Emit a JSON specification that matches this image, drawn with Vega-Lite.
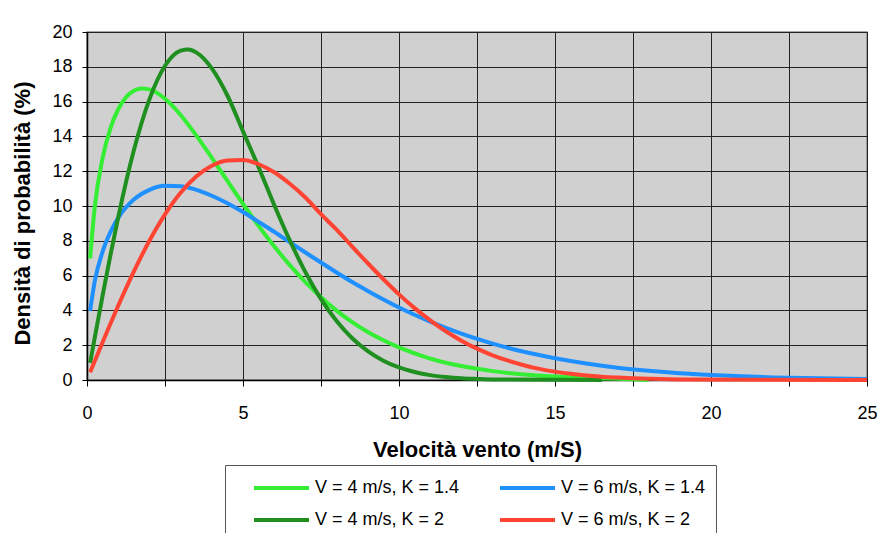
{
  "$schema": "https://vega.github.io/schema/vega-lite/v6.json",
  "width": 780,
  "height": 348,
  "autosize": {"type": "none"},
  "padding": {"left": 87, "top": 32, "right": 15, "bottom": 153},
  "background": "white",
  "config": {
    "view": {"fill": "#D0D0D0", "stroke": "#8A8A8A", "strokeWidth": 1.5},
    "axis": {
      "labelFont": "Liberation Sans", "labelFontSize": 18, "labelColor": "#000",
      "titleFont": "Liberation Sans", "titleFontSize": 22, "titleFontWeight": "bold", "titleColor": "#000",
      "gridColor": "#222", "gridWidth": 1, "gridOpacity": 1,
      "domainColor": "#000", "domainWidth": 1.5, "tickColor": "#000", "tickWidth": 1
    },
    "axisX": {
      "tickSize": 6, "labelPadding": 18, "titlePadding": 17,
      "labelFlush": false, "labelOverlap": false
    },
    "axisY": {
      "tickSize": 5, "labelPadding": 10, "titlePadding": 17,
      "labelFlush": false, "labelOverlap": false, "titleY": 181
    },
    "legend": {"labelFont": "Liberation Sans"}
  },
  "datasets": {
    "curves": [
      {"serie": "V = 4 m/s, K = 1.4", "v": 0.1, "p": 6.99},
      {"serie": "V = 4 m/s, K = 1.4", "v": 0.25, "p": 9.96},
      {"serie": "V = 4 m/s, K = 1.4", "v": 0.5, "p": 12.75},
      {"serie": "V = 4 m/s, K = 1.4", "v": 0.75, "p": 14.46},
      {"serie": "V = 4 m/s, K = 1.4", "v": 1, "p": 15.56},
      {"serie": "V = 4 m/s, K = 1.4", "v": 1.25, "p": 16.25},
      {"serie": "V = 4 m/s, K = 1.4", "v": 1.5, "p": 16.62},
      {"serie": "V = 4 m/s, K = 1.4", "v": 1.75, "p": 16.75},
      {"serie": "V = 4 m/s, K = 1.4", "v": 2, "p": 16.7},
      {"serie": "V = 4 m/s, K = 1.4", "v": 2.5, "p": 16.16},
      {"serie": "V = 4 m/s, K = 1.4", "v": 3, "p": 15.23},
      {"serie": "V = 4 m/s, K = 1.4", "v": 3.5, "p": 14.06},
      {"serie": "V = 4 m/s, K = 1.4", "v": 4, "p": 12.77},
      {"serie": "V = 4 m/s, K = 1.4", "v": 4.5, "p": 11.44},
      {"serie": "V = 4 m/s, K = 1.4", "v": 5, "p": 10.12},
      {"serie": "V = 4 m/s, K = 1.4", "v": 5.5, "p": 8.86},
      {"serie": "V = 4 m/s, K = 1.4", "v": 6, "p": 7.68},
      {"serie": "V = 4 m/s, K = 1.4", "v": 6.5, "p": 6.6},
      {"serie": "V = 4 m/s, K = 1.4", "v": 7, "p": 5.62},
      {"serie": "V = 4 m/s, K = 1.4", "v": 7.5, "p": 4.76},
      {"serie": "V = 4 m/s, K = 1.4", "v": 8, "p": 3.99},
      {"serie": "V = 4 m/s, K = 1.4", "v": 8.5, "p": 3.33},
      {"serie": "V = 4 m/s, K = 1.4", "v": 9, "p": 2.76},
      {"serie": "V = 4 m/s, K = 1.4", "v": 9.5, "p": 2.28},
      {"serie": "V = 4 m/s, K = 1.4", "v": 10, "p": 1.87},
      {"serie": "V = 4 m/s, K = 1.4", "v": 11, "p": 1.23},
      {"serie": "V = 4 m/s, K = 1.4", "v": 12, "p": 0.8},
      {"serie": "V = 4 m/s, K = 1.4", "v": 13, "p": 0.51},
      {"serie": "V = 4 m/s, K = 1.4", "v": 14, "p": 0.32},
      {"serie": "V = 4 m/s, K = 1.4", "v": 15, "p": 0.2},
      {"serie": "V = 4 m/s, K = 1.4", "v": 16, "p": 0.12},
      {"serie": "V = 4 m/s, K = 1.4", "v": 17, "p": 0.07},
      {"serie": "V = 4 m/s, K = 1.4", "v": 18, "p": 0},
      {"serie": "V = 6 m/s, K = 1.4", "v": 0.1, "p": 3.97},
      {"serie": "V = 6 m/s, K = 1.4", "v": 0.25, "p": 5.69},
      {"serie": "V = 6 m/s, K = 1.4", "v": 0.5, "p": 7.38},
      {"serie": "V = 6 m/s, K = 1.4", "v": 0.75, "p": 8.5},
      {"serie": "V = 6 m/s, K = 1.4", "v": 1, "p": 9.32},
      {"serie": "V = 6 m/s, K = 1.4", "v": 1.5, "p": 10.37},
      {"serie": "V = 6 m/s, K = 1.4", "v": 2, "p": 10.93},
      {"serie": "V = 6 m/s, K = 1.4", "v": 2.5, "p": 11.16},
      {"serie": "V = 6 m/s, K = 1.4", "v": 3, "p": 11.14},
      {"serie": "V = 6 m/s, K = 1.4", "v": 3.5, "p": 10.93},
      {"serie": "V = 6 m/s, K = 1.4", "v": 4, "p": 10.59},
      {"serie": "V = 6 m/s, K = 1.4", "v": 4.5, "p": 10.16},
      {"serie": "V = 6 m/s, K = 1.4", "v": 5, "p": 9.65},
      {"serie": "V = 6 m/s, K = 1.4", "v": 5.5, "p": 9.09},
      {"serie": "V = 6 m/s, K = 1.4", "v": 6, "p": 8.52},
      {"serie": "V = 6 m/s, K = 1.4", "v": 6.5, "p": 7.92},
      {"serie": "V = 6 m/s, K = 1.4", "v": 7, "p": 7.33},
      {"serie": "V = 6 m/s, K = 1.4", "v": 7.5, "p": 6.75},
      {"serie": "V = 6 m/s, K = 1.4", "v": 8, "p": 6.18},
      {"serie": "V = 6 m/s, K = 1.4", "v": 8.5, "p": 5.63},
      {"serie": "V = 6 m/s, K = 1.4", "v": 9, "p": 5.12},
      {"serie": "V = 6 m/s, K = 1.4", "v": 9.5, "p": 4.63},
      {"serie": "V = 6 m/s, K = 1.4", "v": 10, "p": 4.17},
      {"serie": "V = 6 m/s, K = 1.4", "v": 11, "p": 3.36},
      {"serie": "V = 6 m/s, K = 1.4", "v": 12, "p": 2.66},
      {"serie": "V = 6 m/s, K = 1.4", "v": 13, "p": 2.09},
      {"serie": "V = 6 m/s, K = 1.4", "v": 14, "p": 1.62},
      {"serie": "V = 6 m/s, K = 1.4", "v": 15, "p": 1.25},
      {"serie": "V = 6 m/s, K = 1.4", "v": 16, "p": 0.95},
      {"serie": "V = 6 m/s, K = 1.4", "v": 17, "p": 0.71},
      {"serie": "V = 6 m/s, K = 1.4", "v": 18, "p": 0.53},
      {"serie": "V = 6 m/s, K = 1.4", "v": 19, "p": 0.39},
      {"serie": "V = 6 m/s, K = 1.4", "v": 20, "p": 0.29},
      {"serie": "V = 6 m/s, K = 1.4", "v": 21, "p": 0.21},
      {"serie": "V = 6 m/s, K = 1.4", "v": 22, "p": 0.15},
      {"serie": "V = 6 m/s, K = 1.4", "v": 23, "p": 0.11},
      {"serie": "V = 6 m/s, K = 1.4", "v": 24, "p": 0.08},
      {"serie": "V = 6 m/s, K = 1.4", "v": 25, "p": 0.06},
      {"serie": "V = 4 m/s, K = 2", "v": 0.1, "p": 0.98},
      {"serie": "V = 4 m/s, K = 2", "v": 0.25, "p": 2.45},
      {"serie": "V = 4 m/s, K = 2", "v": 0.5, "p": 4.85},
      {"serie": "V = 4 m/s, K = 2", "v": 0.75, "p": 7.16},
      {"serie": "V = 4 m/s, K = 2", "v": 1, "p": 9.35},
      {"serie": "V = 4 m/s, K = 2", "v": 1.5, "p": 13.19},
      {"serie": "V = 4 m/s, K = 2", "v": 2, "p": 16.13},
      {"serie": "V = 4 m/s, K = 2", "v": 2.5, "p": 18.06},
      {"serie": "V = 4 m/s, K = 2", "v": 2.75, "p": 18.63},
      {"serie": "V = 4 m/s, K = 2", "v": 3, "p": 18.93},
      {"serie": "V = 4 m/s, K = 2", "v": 3.25, "p": 19.0},
      {"serie": "V = 4 m/s, K = 2", "v": 3.5, "p": 18.83},
      {"serie": "V = 4 m/s, K = 2", "v": 3.75, "p": 18.46},
      {"serie": "V = 4 m/s, K = 2", "v": 4, "p": 17.91},
      {"serie": "V = 4 m/s, K = 2", "v": 4.5, "p": 16.35},
      {"serie": "V = 4 m/s, K = 2", "v": 5, "p": 14.29},
      {"serie": "V = 4 m/s, K = 2", "v": 5.5, "p": 12.23},
      {"serie": "V = 4 m/s, K = 2", "v": 6, "p": 10.06},
      {"serie": "V = 4 m/s, K = 2", "v": 6.5, "p": 8.02},
      {"serie": "V = 4 m/s, K = 2", "v": 7, "p": 6.2},
      {"serie": "V = 4 m/s, K = 2", "v": 7.5, "p": 4.65},
      {"serie": "V = 4 m/s, K = 2", "v": 8, "p": 3.39},
      {"serie": "V = 4 m/s, K = 2", "v": 8.5, "p": 2.4},
      {"serie": "V = 4 m/s, K = 2", "v": 9, "p": 1.66},
      {"serie": "V = 4 m/s, K = 2", "v": 9.5, "p": 1.11},
      {"serie": "V = 4 m/s, K = 2", "v": 10, "p": 0.72},
      {"serie": "V = 4 m/s, K = 2", "v": 10.5, "p": 0.46},
      {"serie": "V = 4 m/s, K = 2", "v": 11, "p": 0.28},
      {"serie": "V = 4 m/s, K = 2", "v": 11.5, "p": 0.17},
      {"serie": "V = 4 m/s, K = 2", "v": 12, "p": 0.1},
      {"serie": "V = 4 m/s, K = 2", "v": 12.5, "p": 0.06},
      {"serie": "V = 4 m/s, K = 2", "v": 13, "p": 0.03},
      {"serie": "V = 4 m/s, K = 2", "v": 16.5, "p": 0},
      {"serie": "V = 6 m/s, K = 2", "v": 0.1, "p": 0.44},
      {"serie": "V = 6 m/s, K = 2", "v": 0.25, "p": 1.09},
      {"serie": "V = 6 m/s, K = 2", "v": 0.5, "p": 2.17},
      {"serie": "V = 6 m/s, K = 2", "v": 0.75, "p": 3.23},
      {"serie": "V = 6 m/s, K = 2", "v": 1, "p": 4.27},
      {"serie": "V = 6 m/s, K = 2", "v": 1.5, "p": 6.23},
      {"serie": "V = 6 m/s, K = 2", "v": 2, "p": 8.0},
      {"serie": "V = 6 m/s, K = 2", "v": 2.5, "p": 9.52},
      {"serie": "V = 6 m/s, K = 2", "v": 3, "p": 10.76},
      {"serie": "V = 6 m/s, K = 2", "v": 3.5, "p": 11.69},
      {"serie": "V = 6 m/s, K = 2", "v": 4, "p": 12.31},
      {"serie": "V = 6 m/s, K = 2", "v": 4.5, "p": 12.62},
      {"serie": "V = 6 m/s, K = 2", "v": 5, "p": 12.65},
      {"serie": "V = 6 m/s, K = 2", "v": 5.5, "p": 12.4},
      {"serie": "V = 6 m/s, K = 2", "v": 6, "p": 11.94},
      {"serie": "V = 6 m/s, K = 2", "v": 6.5, "p": 11.28},
      {"serie": "V = 6 m/s, K = 2", "v": 7, "p": 10.49},
      {"serie": "V = 6 m/s, K = 2", "v": 7.5, "p": 9.53},
      {"serie": "V = 6 m/s, K = 2", "v": 8, "p": 8.64},
      {"serie": "V = 6 m/s, K = 2", "v": 8.5, "p": 7.67},
      {"serie": "V = 6 m/s, K = 2", "v": 9, "p": 6.71},
      {"serie": "V = 6 m/s, K = 2", "v": 9.5, "p": 5.79},
      {"serie": "V = 6 m/s, K = 2", "v": 10, "p": 4.92},
      {"serie": "V = 6 m/s, K = 2", "v": 10.5, "p": 4.13},
      {"serie": "V = 6 m/s, K = 2", "v": 11, "p": 3.43},
      {"serie": "V = 6 m/s, K = 2", "v": 11.5, "p": 2.8},
      {"serie": "V = 6 m/s, K = 2", "v": 12, "p": 2.26},
      {"serie": "V = 6 m/s, K = 2", "v": 12.5, "p": 1.8},
      {"serie": "V = 6 m/s, K = 2", "v": 13, "p": 1.42},
      {"serie": "V = 6 m/s, K = 2", "v": 13.5, "p": 1.11},
      {"serie": "V = 6 m/s, K = 2", "v": 14, "p": 0.85},
      {"serie": "V = 6 m/s, K = 2", "v": 14.5, "p": 0.64},
      {"serie": "V = 6 m/s, K = 2", "v": 15, "p": 0.48},
      {"serie": "V = 6 m/s, K = 2", "v": 15.5, "p": 0.36},
      {"serie": "V = 6 m/s, K = 2", "v": 16, "p": 0.26},
      {"serie": "V = 6 m/s, K = 2", "v": 16.5, "p": 0.19},
      {"serie": "V = 6 m/s, K = 2", "v": 17, "p": 0.14},
      {"serie": "V = 6 m/s, K = 2", "v": 17.5, "p": 0.1},
      {"serie": "V = 6 m/s, K = 2", "v": 18, "p": 0.07},
      {"serie": "V = 6 m/s, K = 2", "v": 19, "p": 0.03},
      {"serie": "V = 6 m/s, K = 2", "v": 25, "p": 0}
    ]
  },
  "layer": [
    {
      "data": {"name": "curves"},
      "mark": {"type": "line", "strokeWidth": 4, "interpolate": "monotone", "strokeJoin": "round", "strokeCap": "butt"},
      "encoding": {
        "x": {
          "field": "v", "type": "quantitative",
          "title": "Velocità vento (m/S)",
          "scale": {"domain": [0, 25], "nice": false, "zero": false},
          "axis": {
            "values": [0, 2.5, 5, 7.5, 10, 12.5, 15, 17.5, 20, 22.5, 25],
            "labelExpr": "datum.value % 5 === 0 ? datum.label : ''"
          }
        },
        "y": {
          "field": "p", "type": "quantitative",
          "title": "Densità di probabilità (%)",
          "scale": {"domain": [0, 20], "nice": false}
        },
        "color": {
          "field": "serie", "type": "nominal",
          "scale": {
            "domain": ["V = 4 m/s, K = 1.4", "V = 6 m/s, K = 1.4", "V = 4 m/s, K = 2", "V = 6 m/s, K = 2"],
            "range": ["#33EE33", "#1E90FF", "#1F8F1F", "#FF4433"]
          },
          "legend": {
            "title": null,
            "orient": "none", "legendX": 138, "legendY": 433,
            "columns": 2, "direction": "horizontal",
            "symbolType": "M-2.5,0H2.5", "symbolSize": 484, "symbolStrokeWidth": 4,
            "labelFontSize": 18, "labelColor": "#000", "labelOffset": 20.5,
            "columnPadding": 21, "rowPadding": 10,
            "strokeColor": "#555", "padding": 10, "symbolOffset": 33.5
          }
        }
      }
    },
    {
      "mark": {"type": "rule", "color": "#333", "strokeWidth": 1.5, "clip": false},
      "encoding": {
        "x": {
          "datum": -2.6, "type": "quantitative", "title": "Velocità vento (m/S)",
          "axis": {
            "values": [0, 2.5, 5, 7.5, 10, 12.5, 15, 17.5, 20, 22.5, 25],
            "labelExpr": "datum.value % 5 === 0 ? datum.label : ''"
          }
        },
        "x2": {"datum": 25.42},
        "y": {"datum": 21.2, "type": "quantitative", "title": "Densità di probabilità (%)"}
      }
    }
  ]
}
